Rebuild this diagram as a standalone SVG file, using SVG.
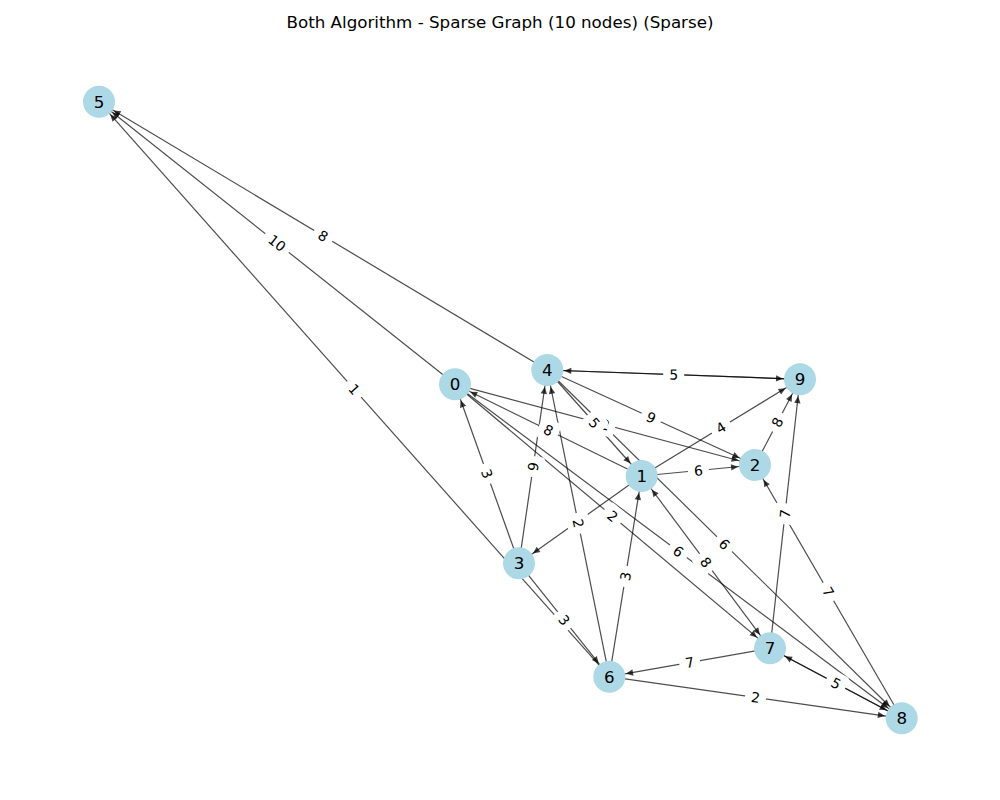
<svg xmlns="http://www.w3.org/2000/svg" width="1000" height="800" viewBox="0 0 1000 800">
<style>
.e{stroke:#000;stroke-opacity:0.7;stroke-width:1.2;fill:none;marker-end:url(#ah)}
.lb rect{fill:#fff;stroke:none}
.lb text{font-family:"DejaVu Sans",sans-serif;font-size:13.9px;fill:#000;text-anchor:middle;dominant-baseline:central}
.n circle{fill:#ADD8E6;stroke:none}
.n text{font-family:"DejaVu Sans",sans-serif;font-size:16.7px;fill:#000;text-anchor:middle;dominant-baseline:central}
.t{font-family:"DejaVu Sans",sans-serif;font-size:16.7px;fill:#000;text-anchor:middle}
</style>
<defs>
<marker id="ah" markerUnits="userSpaceOnUse" orient="auto" refX="0" refY="0" markerWidth="60" markerHeight="60" viewBox="-30 -30 60 60" overflow="visible">
<path d="M-17,0 L-24,-3.2 L-24,3.2 Z" fill="#000" fill-opacity="0.75"/>
</marker>
<marker id="as" markerUnits="userSpaceOnUse" orient="auto-start-reverse" refX="0" refY="0" markerWidth="60" markerHeight="60" viewBox="-30 -30 60 60" overflow="visible">
<path d="M-17,0 L-24,-3.2 L-24,3.2 Z" fill="#000" fill-opacity="0.75"/>
</marker>
</defs>
<rect width="1000" height="800" fill="#fff"/>
<text class="t" x="500" y="28">Both Algorithm - Sparse Graph (10 nodes) (Sparse)</text>
<g id="edges">
<line class="e" x1="547.3" y1="370" x2="99" y2="101.7"/>
<line class="e" x1="455" y1="384.3" x2="99" y2="101.7"/>
<line class="e" x1="609.3" y1="676.7" x2="99" y2="101.7"/>
<line class="e" x1="547.3" y1="370" x2="800" y2="379.3"/>
<line class="e" x1="800" y1="379.3" x2="547.3" y2="370"/>
<line class="e" x1="547.3" y1="370" x2="641.7" y2="476"/>
<line class="e" x1="455" y1="384.3" x2="755" y2="465"/>
<line class="e" x1="641.7" y1="476" x2="455" y2="384.3"/>
<line class="e" x1="547.3" y1="370" x2="755" y2="465"/>
<line class="e" x1="641.7" y1="476" x2="755" y2="465"/>
<line class="e" x1="641.7" y1="476" x2="800" y2="379.3"/>
<line class="e" x1="755" y1="465" x2="800" y2="379.3"/>
<line class="e" x1="455" y1="384.3" x2="770" y2="648.3"/>
<line class="e" x1="455" y1="384.3" x2="901.7" y2="718.3"/>
<line class="e" x1="547.3" y1="370" x2="901.7" y2="718.3"/>
<line class="e" x1="770" y1="648.3" x2="641.7" y2="476" marker-start="url(#as)"/>
<line class="e" x1="770" y1="648.3" x2="800" y2="379.3"/>
<line class="e" x1="901.7" y1="718.3" x2="755" y2="465"/>
<line class="e" x1="770" y1="648.3" x2="901.7" y2="718.3"/>
<line class="e" x1="901.7" y1="718.3" x2="770" y2="648.3"/>
<line class="e" x1="609.3" y1="676.7" x2="901.7" y2="718.3"/>
<line class="e" x1="770" y1="648.3" x2="609.3" y2="676.7"/>
<line class="e" x1="609.3" y1="676.7" x2="641.7" y2="476"/>
<line class="e" x1="609.3" y1="676.7" x2="547.3" y2="370"/>
<line class="e" x1="641.7" y1="476" x2="519" y2="563.3"/>
<line class="e" x1="519" y1="563.3" x2="455" y2="384.3"/>
<line class="e" x1="519" y1="563.3" x2="547.3" y2="370"/>
<line class="e" x1="519" y1="563.3" x2="609.3" y2="676.7"/>
</g>
<g id="edge-labels" class="lb">
<g transform="translate(323.2,235.9) rotate(30.9)"><rect x="-10.5" y="-11" width="21" height="22" rx="4"/><text>8</text></g>
<g transform="translate(277,243) rotate(38.4)"><rect x="-15" y="-11" width="30" height="22" rx="4"/><text>10</text></g>
<g transform="translate(354.2,389.2) rotate(48.4)"><rect x="-10.5" y="-11" width="21" height="22" rx="4"/><text>1</text></g>
<g transform="translate(673.7,374.7) rotate(1.2)"><rect x="-10.5" y="-11" width="21" height="22" rx="4"/><text>5</text></g>
<g transform="translate(605,424.7) rotate(15.1)"><rect x="-10.5" y="-11" width="21" height="22" rx="4"/><text>2</text></g>
<g transform="translate(594.5,423) rotate(48.3)"><rect x="-10.5" y="-11" width="21" height="22" rx="4"/><text>5</text></g>
<g transform="translate(548.4,430.2) rotate(26.2)"><rect x="-10.5" y="-11" width="21" height="22" rx="4"/><text>8</text></g>
<g transform="translate(651.2,417.5) rotate(24.6)"><rect x="-10.5" y="-11" width="21" height="22" rx="4"/><text>9</text></g>
<g transform="translate(698.4,470.5) rotate(-5.5)"><rect x="-10.5" y="-11" width="21" height="22" rx="4"/><text>6</text></g>
<g transform="translate(720.9,427.7) rotate(-31.4)"><rect x="-10.5" y="-11" width="21" height="22" rx="4"/><text>4</text></g>
<g transform="translate(777.5,422.2) rotate(-62.3)"><rect x="-10.5" y="-11" width="21" height="22" rx="4"/><text>8</text></g>
<g transform="translate(612.5,516.3) rotate(40)"><rect x="-10.5" y="-11" width="21" height="22" rx="4"/><text>2</text></g>
<g transform="translate(678.4,551.3) rotate(36.8)"><rect x="-10.5" y="-11" width="21" height="22" rx="4"/><text>6</text></g>
<g transform="translate(724.5,544.2) rotate(44.5)"><rect x="-10.5" y="-11" width="21" height="22" rx="4"/><text>6</text></g>
<g transform="translate(705.9,562.2) rotate(53.3)"><rect x="-10.5" y="-11" width="21" height="22" rx="4"/><text>8</text></g>
<g transform="translate(785,513.8) rotate(-83.6)"><rect x="-10.5" y="-11" width="21" height="22" rx="4"/><text>7</text></g>
<g transform="translate(828.4,591.7) rotate(59.9)"><rect x="-10.5" y="-11" width="21" height="22" rx="4"/><text>7</text></g>
<g transform="translate(835.9,683.3) rotate(28)"><rect x="-10.5" y="-11" width="21" height="22" rx="4"/><text>5</text></g>
<g transform="translate(755.5,697.5) rotate(8.1)"><rect x="-10.5" y="-11" width="21" height="22" rx="4"/><text>2</text></g>
<g transform="translate(689.7,662.5) rotate(-10)"><rect x="-10.5" y="-11" width="21" height="22" rx="4"/><text>7</text></g>
<g transform="translate(625.5,576.4) rotate(-80.8)"><rect x="-10.5" y="-11" width="21" height="22" rx="4"/><text>3</text></g>
<g transform="translate(578.3,523.4) rotate(78.6)"><rect x="-10.5" y="-11" width="21" height="22" rx="4"/><text>2</text></g>
<g transform="translate(487,473.8) rotate(70.3)"><rect x="-10.5" y="-11" width="21" height="22" rx="4"/><text>3</text></g>
<g transform="translate(533.2,466.7) rotate(-81.7)"><rect x="-10.5" y="-11" width="21" height="22" rx="4"/><text>9</text></g>
<g transform="translate(564.2,620) rotate(51.5)"><rect x="-10.5" y="-11" width="21" height="22" rx="4"/><text>3</text></g>
</g>
<g id="node-5" class="n"><circle cx="99" cy="101.7" r="16"/><text x="99" y="101.7">5</text></g>
<g id="node-0" class="n"><circle cx="455" cy="384.3" r="16"/><text x="455" y="384.3">0</text></g>
<g id="node-4" class="n"><circle cx="547.3" cy="370" r="16"/><text x="547.3" y="370">4</text></g>
<g id="node-1" class="n"><circle cx="641.7" cy="476" r="16"/><text x="641.7" y="476">1</text></g>
<g id="node-7" class="n"><circle cx="770" cy="648.3" r="16"/><text x="770" y="648.3">7</text></g>
<g id="node-8" class="n"><circle cx="901.7" cy="718.3" r="16"/><text x="901.7" y="718.3">8</text></g>
<g id="node-9" class="n"><circle cx="800" cy="379.3" r="16"/><text x="800" y="379.3">9</text></g>
<g id="node-2" class="n"><circle cx="755" cy="465" r="16"/><text x="755" y="465">2</text></g>
<g id="node-3" class="n"><circle cx="519" cy="563.3" r="16"/><text x="519" y="563.3">3</text></g>
<g id="node-6" class="n"><circle cx="609.3" cy="676.7" r="16"/><text x="609.3" y="676.7">6</text></g>
</svg>
